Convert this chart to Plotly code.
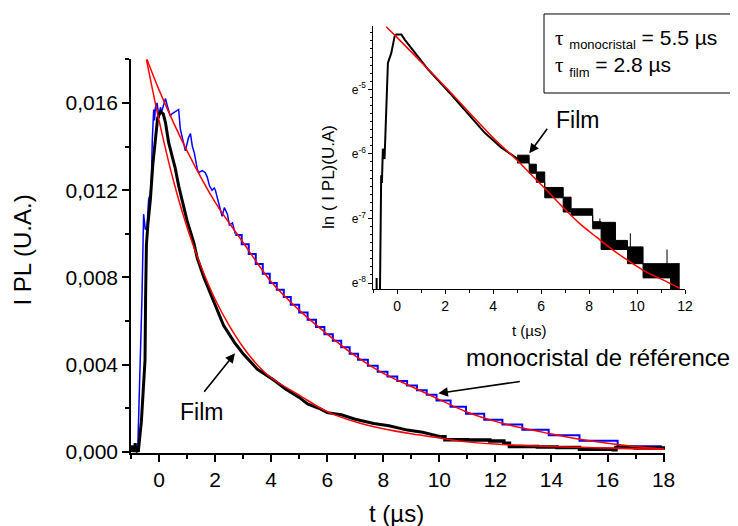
import plotly.graph_objects as go

# ---------------- main panel data ----------------
# monocristal de référence (blue), rising part and first wiggles
mono_t = [-0.85, -0.80, -0.76, -0.73, -0.67, -0.61, -0.55, -0.52, -0.49, -0.43, -0.37, -0.31,
          -0.27, -0.24, -0.19, -0.16, -0.13, -0.07, 0.00, 0.05, 0.10, 0.16, 0.23, 0.29, 0.34,
          0.40, 0.46, 0.58, 0.70, 0.76, 0.88, 0.94, 1.05, 1.12, 1.19, 1.26, 1.36, 1.41, 1.54,
          1.65, 1.72, 1.80, 1.89, 1.97, 2.01, 2.08, 2.15, 2.25, 2.33, 2.44, 2.51, 2.62, 2.72]
mono_I = [0.0001, 0.0000, 0.0001, 0.0015, 0.0033, 0.0070, 0.0109, 0.0104, 0.0102, 0.0103, 0.0116,
          0.0118, 0.0126, 0.0143, 0.0157, 0.0152, 0.0158, 0.0160, 0.0153, 0.0158, 0.0156, 0.0159,
          0.0162, 0.0159, 0.0157, 0.0154, 0.0155, 0.0156, 0.0157, 0.0148, 0.0142, 0.0138, 0.0144,
          0.0146, 0.0140, 0.0137, 0.0130, 0.0128, 0.0129, 0.0128, 0.0126, 0.0122, 0.0120, 0.0121,
          0.0120, 0.0116, 0.0113, 0.0108, 0.0112, 0.0109, 0.0104, 0.0105, 0.0100]
# monocristal: quantised (staircase) decay
mono_step_t = [2.72, 2.95, 3.20, 3.45, 3.70, 3.95, 4.20, 4.45, 4.70, 5.00, 5.30, 5.60, 5.90,
               6.20, 6.50, 6.80, 7.10, 7.45, 7.80, 8.15, 8.50, 8.85, 9.20, 9.55, 9.90, 10.40,
               10.95, 11.60, 12.25, 12.96, 13.90, 15.00, 16.36, 17.90, 18.05]
mono_step_I = [0.00995, 0.00952, 0.00907, 0.00862, 0.00817, 0.00775, 0.00743, 0.00710, 0.00675,
               0.00639, 0.00606, 0.00573, 0.00540, 0.00510, 0.00480, 0.00450, 0.00423, 0.00395,
               0.00367, 0.00346, 0.00325, 0.00304, 0.00283, 0.00262, 0.00236, 0.00207, 0.00175,
               0.00148, 0.00126, 0.00102, 0.00076, 0.00051, 0.00026, 0.00014, 0.00014]
# monocristal fit (red)
mono_fit_t = [-0.43, 0, 1, 2, 3, 4, 5, 6, 7, 8, 9, 10, 11, 12, 13, 14, 15, 16, 17, 18]
mono_fit_I = [0.0180, 0.0166, 0.0138, 0.01145, 0.0096, 0.0078, 0.0065, 0.0054, 0.0044, 0.0036,
              0.0030, 0.0024, 0.00182, 0.00140, 0.00108, 0.00082, 0.00058, 0.00040, 0.00025, 0.00013]

# film (black)
film_t = [-1.00, -0.96, -0.94, -0.92, -0.88, -0.85, -0.82, -0.78, -0.74, -0.70, -0.67, -0.63,
          -0.59, -0.56, -0.53, -0.50, -0.48, -0.45, -0.40, -0.35, -0.31, -0.22, -0.13, -0.05,
          0.05, 0.15, 0.23, 0.34, 0.46, 0.58, 0.70, 0.82, 1.00, 1.24, 1.36, 1.60, 1.95, 2.30,
          2.70, 3.00, 3.50, 4.09, 4.50, 5.00, 5.30, 5.70, 6.00, 6.50, 7.00, 7.66, 8.20, 8.86,
          9.40, 10.05]
film_I = [0.0000, 0.0003, 0.0000, 0.0002, 0.0000, 0.0004, 0.0000, 0.0001, 0.0000, 0.0004, 0.0009,
          0.0014, 0.0024, 0.0031, 0.0035, 0.0042, 0.0070, 0.0095, 0.0104, 0.0110, 0.01155, 0.0132,
          0.01445, 0.0153, 0.0156, 0.0155, 0.0151, 0.0142, 0.0136, 0.0130, 0.0122, 0.0115, 0.0106,
          0.0096, 0.0089, 0.0080, 0.0069, 0.0058, 0.0050, 0.0045, 0.0038, 0.0033, 0.0029, 0.0025,
          0.0022, 0.0020, 0.0018, 0.0017, 0.0015, 0.0013, 0.0012, 0.0010, 0.0009, 0.0007]
film_tail_t = [10.05, 10.20, 11.00, 11.80, 12.30, 12.50, 13.50, 14.20, 15.00, 16.20, 16.30, 17.00, 18.00]
film_tail_I = [0.0007, 0.00056, 0.00055, 0.0005, 0.0004, 0.00025, 0.00023, 0.0002, 0.00012,
               0.0001, 0.0002, 0.00018, 0.00015]
# film fit (red)
film_fit_t = [-0.45, 0, 0.5, 1, 1.5, 2, 2.5, 3, 3.5, 4, 5, 6, 7, 8, 9, 10, 11, 12, 13, 14, 15, 16, 17, 18]
film_fit_I = [0.0180, 0.0152, 0.0125, 0.0103, 0.0085, 0.0070, 0.0058, 0.0048, 0.0040, 0.0034,
              0.0026, 0.00185, 0.00138, 0.00106, 0.00083, 0.00064, 0.00046, 0.00036, 0.00029,
              0.00025, 0.00021, 0.00018, 0.00015, 0.00012]

y_tick_vals = [0.000, 0.004, 0.008, 0.012, 0.016]
y_tick_text = ["0,000", "0,004", "0,008", "0,012", "0,016"]
x_tick_vals = [0, 2, 4, 6, 8, 10, 12, 14, 16, 18]

# ---------------- inset data (ln scale, film) ----------------
ins_t = [-0.86, -0.86, None, -0.72, -0.70, -0.67, -0.64, -0.60, -0.53, -0.46, -0.39, -0.25,
         -0.11, -0.04, 0.17, 0.31, 0.58, 1.28, 2.25, 2.95, 3.64, 4.33, 5.03]
ins_ln = [-8.10, -7.92, None, -8.10, -6.90, -6.33, -6.45, -5.92, -6.08, -5.46, -4.59, -4.44,
          -4.18, -4.15, -4.15, -4.23, -4.36, -4.69, -5.08, -5.38, -5.67, -5.90, -6.08]
band_t = [5.00, 5.50, 5.80, 6.15, 6.92, 7.25, 8.15, 8.50, 9.10, 9.60, 10.25, 11.40, 11.78]
band_lo = [-6.14, -6.30, -6.44, -6.68, -6.90, -6.95, -7.16, -7.48, -7.48, -7.70, -7.92, -8.10, -8.10]
band_hi = [-6.02, -6.16, -6.28, -6.52, -6.67, -6.85, -7.05, -7.06, -7.34, -7.44, -7.70, -7.70, -7.70]
spike_t = [9.72, 9.72, None, 11.25, 11.25, None, 8.45, 8.45]
spike_ln = [-7.44, -7.23, None, -7.70, -7.48, None, -7.16, -7.00]
ins_fit_t = [-0.46, 0, 1, 2, 3, 4, 5, 5.53, 6.22, 6.92, 7.61, 8.31, 9.0, 9.7, 10.39, 11.08, 11.78]
ins_fit_ln = [-4.03, -4.20, -4.58, -4.96, -5.36, -5.75, -6.10, -6.30, -6.56, -6.83, -7.08, -7.29,
              -7.49, -7.67, -7.83, -7.95, -8.08]
ins_y_tick_vals = [-8, -7, -6, -5]
ins_y_tick_text = ["e<sup>-8</sup>", "e<sup>-7</sup>", "e<sup>-6</sup>", "e<sup>-5</sup>"]
ins_x_tick_vals = [0, 2, 4, 6, 8, 10, 12]

FONT = "Arial, Liberation Sans, sans-serif"
RED = "#ff0000"
BLUE = "#0000ff"

fig = go.Figure()
# main panel
fig.add_trace(go.Scatter(x=mono_t, y=mono_I, mode="lines", line=dict(color=BLUE, width=1.5),
                         xaxis="x", yaxis="y"))
fig.add_trace(go.Scatter(x=mono_step_t, y=mono_step_I, mode="lines",
                         line=dict(color=BLUE, width=2, shape="hv"), xaxis="x", yaxis="y"))
fig.add_trace(go.Scatter(x=film_t, y=film_I, mode="lines", line=dict(color="black", width=3),
                         xaxis="x", yaxis="y"))
fig.add_trace(go.Scatter(x=film_tail_t, y=film_tail_I, mode="lines",
                         line=dict(color="black", width=3.5, shape="hv"), xaxis="x", yaxis="y"))
fig.add_trace(go.Scatter(x=mono_fit_t, y=mono_fit_I, mode="lines",
                         line=dict(color=RED, width=1.5, shape="spline", smoothing=1),
                         xaxis="x", yaxis="y"))
fig.add_trace(go.Scatter(x=film_fit_t, y=film_fit_I, mode="lines",
                         line=dict(color=RED, width=1.5, shape="spline", smoothing=1),
                         xaxis="x", yaxis="y"))
# inset
fig.add_trace(go.Scatter(x=ins_t, y=ins_ln, mode="lines", line=dict(color="black", width=2),
                         xaxis="x2", yaxis="y2"))
fig.add_trace(go.Scatter(x=band_t, y=band_lo, mode="lines",
                         line=dict(color="black", width=1, shape="hv"), xaxis="x2", yaxis="y2"))
fig.add_trace(go.Scatter(x=band_t, y=band_hi, mode="lines", fill="tonexty", fillcolor="black",
                         line=dict(color="black", width=1, shape="hv"), xaxis="x2", yaxis="y2"))
fig.add_trace(go.Scatter(x=spike_t, y=spike_ln, mode="lines", line=dict(color="black", width=1),
                         xaxis="x2", yaxis="y2"))
fig.add_trace(go.Scatter(x=ins_fit_t, y=ins_fit_ln, mode="lines",
                         line=dict(color=RED, width=1.5, shape="spline", smoothing=1),
                         xaxis="x2", yaxis="y2"))

axis_common = dict(showgrid=False, zeroline=False, showline=True, linecolor="black",
                   ticks="outside", tickcolor="black", mirror=False)

# the page body adds an 8 px margin, so the figure is 8 px smaller than the window
fig.update_layout(
    width=730, height=518,
    margin=dict(l=123, r=40, t=12, b=73),
    paper_bgcolor="white", plot_bgcolor="white",
    showlegend=False,
    font=dict(family=FONT, color="black"),
    xaxis=dict(axis_common, domain=[0, 0.9418], range=[-1, 18.05], anchor="y",
               tickvals=x_tick_vals, linewidth=1.5, tickwidth=1.5, ticklen=7,
               tickfont=dict(size=21),
               minor=dict(dtick=1, tick0=-1, ticklen=4, tickwidth=1.5, ticks="outside",
                          tickcolor="black")),
    yaxis=dict(axis_common, domain=[0, 0.9092], range=[-0.00005, 0.018], anchor="x",
               tickvals=y_tick_vals, ticktext=y_tick_text, linewidth=1.5, tickwidth=1.5,
               ticklen=7, tickfont=dict(size=21),
               minor=dict(dtick=0.002, tick0=0, ticklen=4, tickwidth=1.5, ticks="outside",
                          tickcolor="black")),
    xaxis2=dict(axis_common, domain=[0.4273, 0.9771], range=[-1, 12], anchor="y2",
                tickvals=ins_x_tick_vals, linewidth=1, tickwidth=1, ticklen=4,
                tickfont=dict(size=14),
                minor=dict(dtick=1, tick0=-1, ticklen=3, tickwidth=1, ticks="outside",
                           tickcolor="black")),
    yaxis2=dict(axis_common, domain=[0.3776, 0.9861], range=[-8.1, -4.02], anchor="x2",
                tickvals=ins_y_tick_vals, ticktext=ins_y_tick_text, linewidth=1, tickwidth=1,
                ticklen=4, tickfont=dict(size=12),
                minor=dict(dtick=0.125, tick0=-8, ticklen=2.5, tickwidth=1, ticks="outside",
                           tickcolor="black")),
)

ann = []
def label(text, x, y, size, angle=0):
    ann.append(dict(text=text, x=x, y=y, xref="paper", yref="paper", xanchor="center",
                    yanchor="middle", textangle=angle, showarrow=False, font=dict(size=size)))

# axis titles
label("I PL (U.A.)", -0.1914, 0.4688, 24, -90)
label("t (µs)", 0.4691, -0.1400, 24)
label("ln ( I PL)(U.A)", 0.3474, 0.6374, 17, -90)
label("t (µs)", 0.7019, 0.2829, 15)
# labels
label("Film", 0.1247, 0.0954, 23)
label("monocristal de référence", 0.8228, 0.2217, 24)
label("Film", 0.7875, 0.7679, 23)
# arrows
for hx, hy, axp, ayp in [(0.1834, 0.2303, -32, 40), (0.5420, 0.1379, 83, -12),
                         (0.7025, 0.6921, 19, -26)]:
    ann.append(dict(text="", x=hx, y=hy, xref="paper", yref="paper", ax=axp, ay=ayp,
                    axref="pixel", ayref="pixel", showarrow=True, arrowhead=2, arrowsize=1.2,
                    arrowwidth=1.6, arrowcolor="black"))
# legend box text
tau = "<span style='font-family:Liberation Serif, DejaVu Serif, serif'>τ</span>"
sub = lambda s: "<sub><span style='font-size:13px'>" + s + "</span></sub>"
ann.append(dict(text=tau + " " + sub("monocristal") + " = 5.5 µs<br>" + tau + " " + sub("film") + " = 2.8 µs",
                x=0.7443, y=0.9238, xref="paper", yref="paper", xanchor="left", yanchor="middle",
                align="left", showarrow=False, font=dict(size=21)))
fig.update_layout(annotations=ann)
fig.add_shape(type="rect", xref="paper", yref="paper", x0=0.7284, x1=1.067, y0=0.8314, y1=1.0139,
              line=dict(color="black", width=1), fillcolor="rgba(0,0,0,0)")

fig.write_html("out.html")
